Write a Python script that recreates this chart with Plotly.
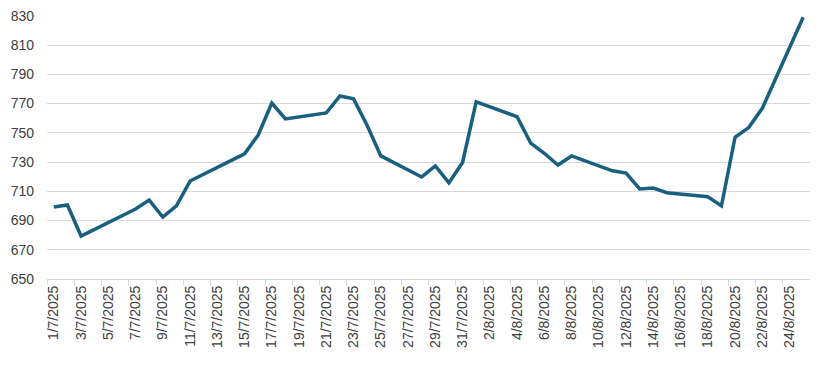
import plotly.graph_objects as go

dates = ["2025-07-01","2025-07-02","2025-07-03","2025-07-04","2025-07-07","2025-07-08","2025-07-09",
         "2025-07-10","2025-07-11","2025-07-14","2025-07-15","2025-07-16","2025-07-17","2025-07-18",
         "2025-07-21","2025-07-22","2025-07-23","2025-07-24","2025-07-25","2025-07-28","2025-07-29",
         "2025-07-30","2025-07-31","2025-08-01","2025-08-04","2025-08-05","2025-08-06","2025-08-07",
         "2025-08-08","2025-08-11","2025-08-12","2025-08-13","2025-08-14","2025-08-15","2025-08-18",
         "2025-08-19","2025-08-20","2025-08-21","2025-08-22","2025-08-25"]
values = [699.3,700.6,679.4,684,697.9,704,692.4,
          700,717,731,735.6,748.5,770.4,759.5,
          763.6,775.2,773.2,755,734.2,719.8,727.4,
          715.8,729.7,771.2,761,743,736,728,
          734.2,724,722.5,711.6,712.2,709,706.3,
          700,747,753.6,766.8,829]

tick_dates = ["2025-07-%02d" % d for d in range(1, 32, 2)] + ["2025-08-%02d" % d for d in range(2, 25, 2)]
tick_labels = ["%d/%d/2025" % (int(s[8:]), int(s[5:7])) for s in tick_dates]
y_ticks = list(range(650, 831, 20))

fig = go.Figure()
fig.add_trace(go.Scatter(x=dates, y=values, mode="lines",
                         line=dict(color="#185f80", width=3.5), hoverinfo="skip"))

fig.update_layout(
    width=818, height=366,
    margin=dict(l=39, r=16, t=7, b=95),
    paper_bgcolor="white", plot_bgcolor="white",
    showlegend=False,
    font=dict(family="Liberation Sans, Arial, sans-serif", color="#404040"),
)
fig.update_xaxes(
    type="date", automargin=False,
    range=["2025-06-30 12:00", "2025-08-25 12:00"],
    tickmode="array", tickvals=tick_dates, ticktext=tick_labels,
    tickangle=-90, tickfont=dict(size=14, color="#404040"),
    ticks="", showgrid=False,
    showline=True, linecolor="#d9d9d9", linewidth=1,
    minor=dict(ticks="outside", tick0="2025-06-30 12:00", dtick=2*86400000,
               ticklen=5, tickcolor="#d9d9d9", tickwidth=1, showgrid=False),
    fixedrange=True,
)
fig.update_yaxes(
    automargin=False,
    range=[650, 830.6], tickmode="array", tickvals=y_ticks,
    showgrid=True, gridcolor="#d9d9d9", gridwidth=1,
    tickfont=dict(size=14, color="#404040"), ticks="", zeroline=False,
    ticklabelstandoff=12, ticklabeloverflow="allow",
    showline=False, fixedrange=True,
)

fig.write_html("out.html")
